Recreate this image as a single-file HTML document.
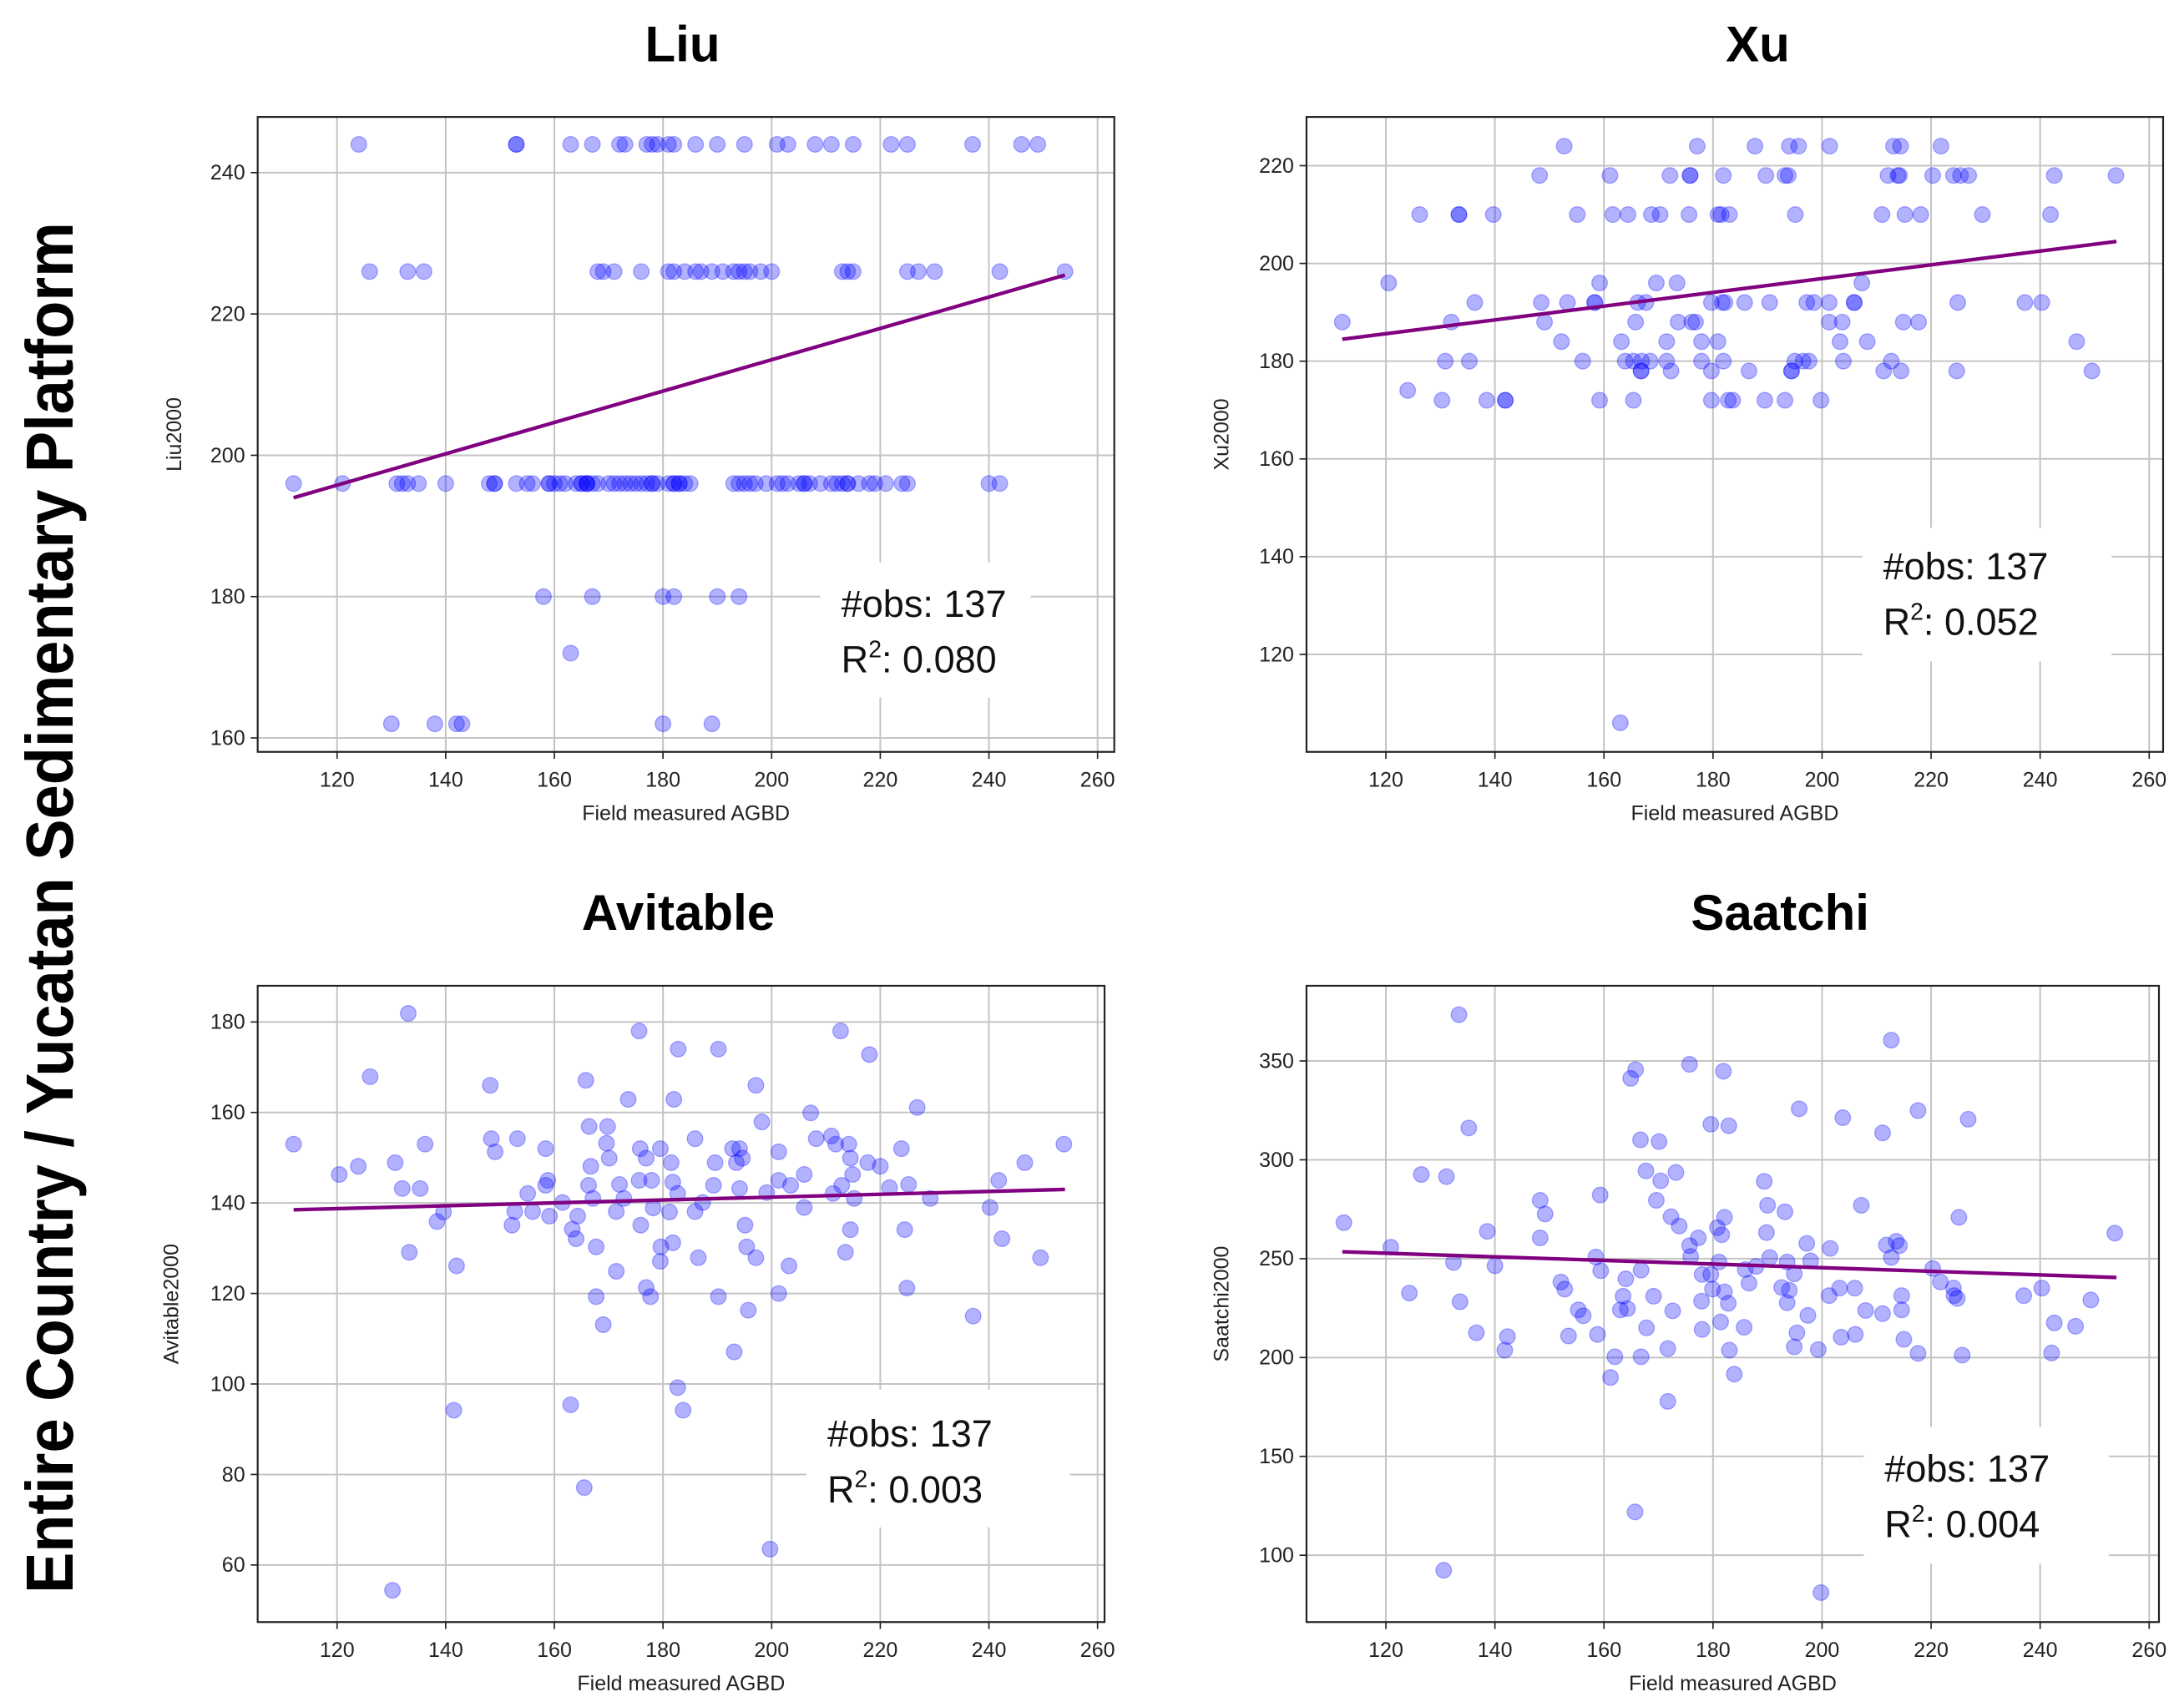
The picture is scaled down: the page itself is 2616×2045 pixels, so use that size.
<!DOCTYPE html>
<html><head><meta charset="utf-8"><style>
html,body{margin:0;padding:0;background:#fff;}
svg{display:block;font-family:"Liberation Sans",sans-serif;}
</style></head><body>
<svg id="fig" width="2616" height="2045" viewBox="0 0 1568 1226" preserveAspectRatio="none" xmlns="http://www.w3.org/2000/svg">
<text transform="translate(52,652) rotate(-90)" text-anchor="middle" font-size="48" font-weight="bold" textLength="985" lengthAdjust="spacingAndGlyphs">Entire Country /  Yucatan Sedimentary Platform</text>
</svg>
<script>
const xTicks=[120,140,160,180,200,220,240,260];
const liuYTicks=[160,180,200,220,240];
const xuYTicks=[120,140,160,180,200,220];
const aviYTicks=[60,80,100,120,140,160,180];
const saaYTicks=[100,150,200,250,300,350];

const liuX=[124,153,153,163,167,172,173,177,178,179,181,182,186,190,195,201,203,208,211,215,222,225,237,246,249,
126,133,136,168,169,171,176,181,182,184,186,187,189,191,193,194,195,196,198,200,213,214,215,225,227,230,242,254,
112,121,131,132,133,135,140,149,149,153,155,156,159,159,161,162,164,165,166,166,167,168,170,171,173,174,176,177,178,179,181,182,182,183,184,193,194,195,197,199,201,203,205,206,207,209,211,212,213,214,216,218,219,221,224,225,240,242,165,183,196,206,160,175,148,214,172,202,185,166,178,
158,167,180,182,190,194,163,130,138,142,143,180,189];
const liuY=[244,244,244,244,244,244,244,244,244,244,244,244,244,244,244,244,244,244,244,244,244,244,244,244,244,
226,226,226,226,226,226,226,226,226,226,226,226,226,226,226,226,226,226,226,226,226,226,226,226,226,226,226,226,
196,196,196,196,196,196,196,196,196,196,196,196,196,196,196,196,196,196,196,196,196,196,196,196,196,196,196,196,196,196,196,196,196,196,196,196,196,196,196,196,196,196,196,196,196,196,196,196,196,196,196,196,196,196,196,196,196,196,196,196,196,196,196,196,196,196,196,196,196,196,196,
180,180,180,180,180,180,172,162,162,162,162,162,162];

const xuX=[152.7,177.1,187.7,194,195.7,201.4,213.1,214.4,221.8,
148.2,161.1,172.1,175.8,175.8,181.9,189.7,193.2,193.8,212.1,213.9,214.2,220.3,224.1,225.4,226.9,242.6,253.9,
126.2,133.4,133.4,139.7,155.1,161.6,164.4,168.7,170.3,175.6,180.9,181.5,183,195.1,211,215.2,218.1,229.4,241.9,
120.5,159.2,169.6,173.4,207.3,
136.3,148.5,153.3,158.3,158.3,166.2,167.7,179.7,181.7,182.2,185.8,190.4,197.2,198.5,201.3,205.9,205.9,224.9,237.2,240.3,
112,132,149.1,165.8,173.6,176.1,176.8,201.3,203.7,214.9,217.7,
152.2,163.2,171.5,177.9,180.9,203.3,208.3,246.7,
130.9,135.3,156.1,163.9,165.4,166.9,168.5,171.5,177.9,181.9,195,196.5,197.6,203.9,212.7,
166.8,166.8,172.3,179.7,186.6,194.4,194.4,211.3,214.5,224.7,249.5,
124,
130.3,138.5,141.9,141.9,159.2,165.4,179.7,182.8,183.6,189.5,193.2,199.8,
163];
const xuY=[224,224,224,224,224,224,224,224,224,
218,218,218,218,218,218,218,218,218,218,218,218,218,218,218,218,218,218,
210,210,210,210,210,210,210,210,210,210,210,210,210,210,210,210,210,210,210,
196,196,196,196,196,
192,192,192,192,192,192,192,192,192,192,192,192,192,192,192,192,192,192,192,192,
188,188,188,188,188,188,188,188,188,188,188,
184,184,184,184,184,184,184,184,
180,180,180,180,180,180,180,180,180,180,180,180,180,180,180,
178,178,178,178,178,178,178,178,178,178,178,
174,
172,172,172,172,172,172,172,172,172,172,172,172,
106];

const aviX=[133.1,175.6,212.7,182.8,190.2,218.0,126.1,148.2,165.8,197.1,173.6,182.0,226.8,207.2,198.2,166.4,169.8,112.0,136.2,148.4,153.2,185.9,208.2,211.0,211.8,214.2,223.9,253.8,158.4,169.6,175.8,179.5,192.8,194.1,149.1,170.1,176.9,194.6,201.3,214.5,123.9,130.7,120.4,166.7,181.5,189.6,193.5,217.7,220.0,246.6,132.0,135.3,158.8,158.4,166.3,172.0,175.6,177.9,181.8,189.3,194.1,201.3,203.5,206.0,212.9,214.9,211.3,221.7,225.2,241.8,155.1,167.1,172.8,182.7,199.1,215.2,229.2,139.6,152.7,156.0,159.1,161.5,164.3,171.4,178.2,181.2,185.9,187.3,206.0,240.2,138.4,152.2,163.3,164.0,175.9,195.1,214.5,224.5,242.4,133.3,167.7,179.6,181.8,186.5,195.4,197.1,213.6,249.5,142.0,171.4,179.5,203.2,176.9,167.7,177.7,190.2,201.3,224.9,195.7,169.0,237.1,193.1,182.7,141.5,163.0,183.7,165.5,199.7,130.2];
const aviY=[181.9,178.0,178.0,174.0,174.0,172.8,167.9,166.0,167.1,166.0,162.9,162.9,161.1,159.9,157.9,156.9,156.9,153.0,153.0,154.2,154.2,154.2,154.2,154.8,153.0,153.0,152.0,153.0,152.0,153.2,152.0,152.0,152.0,152.0,151.3,149.9,149.9,149.9,151.3,149.9,148.1,148.9,146.3,148.1,148.9,148.9,148.9,148.9,148.1,148.9,143.2,143.2,145.0,143.9,143.9,144.1,145.0,145.0,144.6,143.9,143.2,145.0,143.9,146.3,143.9,146.3,142.1,143.4,144.1,145.0,142.1,141.0,141.0,142.1,142.3,141.0,141.0,138.0,138.1,138.1,137.1,140.1,137.1,138.1,138.9,138.0,138.1,140.1,139.0,139.0,135.9,135.1,134.2,132.1,135.1,135.1,134.1,134.1,132.1,129.1,130.3,130.3,131.2,127.9,130.3,127.9,129.1,127.9,126.1,124.9,127.1,126.1,121.3,119.3,119.3,119.3,120.0,121.2,116.3,113.1,115.0,107.1,99.2,94.2,95.4,94.2,77.1,63.5,54.4];

const saaX=[133.4,212.7,164.9,165.8,175.7,181.9,195.8,203.8,217.6,226.8,211.1,135.2,179.6,182.9,166.7,170.1,126.5,131.1,167.7,173.2,170.4,189.4,112.3,148.3,149.2,159.3,169.6,190.0,193.2,207.2,138.6,148.3,172.3,173.8,182.1,180.8,181.6,189.8,225.1,253.7,211.8,213.6,214.2,212.7,120.9,132.4,158.5,159.4,175.7,177.3,175.9,181.1,190.4,197.2,201.5,193.6,197.9,220.3,221.7,224.1,124.3,133.6,140.0,152.1,152.8,155.3,156.2,164.0,163.5,166.8,169.1,178.0,179.6,179.9,182.1,182.8,185.9,186.6,187.9,192.6,194.0,194.9,193.6,197.4,201.3,203.2,206.0,208.0,211.1,214.6,214.6,224.2,224.8,237.0,240.3,242.6,246.5,249.3,136.6,142.3,141.8,153.5,158.8,163.0,164.3,167.8,172.6,177.9,178.0,181.4,185.7,195.4,203.5,206.1,215.0,217.6,225.7,242.1,162.0,166.8,171.7,183.0,194.9,199.3,161.2,183.9,171.7,165.7,130.6,199.8];
const saaY=[373.4,360.5,341.2,345.6,348.3,344.8,325.8,321.3,324.9,320.5,313.6,316.1,318.0,317.2,310.1,309.2,292.6,291.5,294.4,293.6,289.4,289.1,268.2,279.5,272.6,282.2,279.5,277.0,273.7,277.0,263.8,260.5,271.2,266.5,270.9,265.7,262.1,263.2,270.9,262.9,256.9,258.8,256.6,250.6,255.8,248.1,250.8,243.9,256.6,260.5,251.1,248.3,250.6,257.7,255.2,248.3,248.9,245.0,238.2,235.1,232.6,228.2,246.4,238.2,234.6,224.1,221.1,239.8,231.0,244.2,231.0,242.0,242.0,234.6,233.2,227.4,244.5,237.6,246.1,235.4,234.0,242.3,227.7,221.3,231.3,235.1,235.1,223.8,222.2,231.3,224.1,231.3,229.9,231.3,235.1,217.5,215.8,229.1,212.5,210.6,203.7,210.9,211.7,224.1,224.7,215.0,223.6,228.5,214.2,218.0,215.3,212.5,210.3,211.7,209.2,202.1,201.2,202.3,200.4,200.4,204.5,203.7,205.4,204.0,189.9,191.6,177.8,121.9,92.4,81.1];

const fitX=[112,254];
const liuFit=[194,225.5];
const xuFit=[184.5,204.5];
const aviFit=[138.5,143];
const saaFit=[253.5,240.5];

const NS='http://www.w3.org/2000/svg';
const svg=document.getElementById('fig');
function mk(tag,attrs,parent){const e=document.createElementNS(NS,tag);for(const k in attrs)e.setAttribute(k,attrs[k]);(parent||svg).appendChild(e);return e;}
function lin(d0,d1,r0,r1){return v=>r0+(v-d0)*(r1-r0)/(d1-d0);}

function panel(p){
  const g=mk('g',{});
  
  
  const xs=lin(120,260,p.x120,p.x260), ys=lin(p.yd[0],p.yd[1],p.yr[0],p.yr[1]);
  const b=p.box;
  xTicks.forEach(t=>{const X=xs(t);if(X>b[0]&&X<b[2]){const l=mk('line',{x1:X,x2:X,y1:b[1],y2:b[3],stroke:'#c4c4c4','stroke-width':1.2},g);
    
    }});
  p.yt.forEach(t=>{const Y=ys(t);const l=mk('line',{x1:b[0],x2:b[2],y1:Y,y2:Y,stroke:'#c4c4c4','stroke-width':1.2},g);
    
    });
  const ab=mk('rect',{x:p.ann[0],y:p.ann[1],width:p.ann[2]-p.ann[0],height:p.ann[3]-p.ann[1],fill:'#fff'},g);
  
  
  p.px.forEach((v,i)=>{const c=mk('circle',{cx:xs(v),cy:ys(p.py[i]),r:5.6,fill:'#0000ff','fill-opacity':0.3,stroke:'#0000ff','stroke-opacity':0.3,'stroke-width':0.8},g);
    
    });
  const fl=mk('line',{x1:xs(fitX[0]),y1:ys(p.fit[0]),x2:xs(fitX[1]),y2:ys(p.fit[1]),stroke:'#800080','stroke-width':2.6},g);
  
  
  const fr=mk('rect',{x:b[0],y:b[1],width:b[2]-b[0],height:b[3]-b[1],fill:'none',stroke:'#222','stroke-width':1.3},g);
  
  
  xTicks.forEach(t=>{const X=xs(t);mk('line',{x1:X,x2:X,y1:b[3],y2:b[3]+5,stroke:'#222','stroke-width':1},g);
    const tx=mk('text',{x:X,y:b[3]+25,'text-anchor':'middle','font-size':15,fill:'#222'},g);tx.textContent=t;
    
    });
  p.yt.forEach(t=>{const Y=ys(t);mk('line',{x1:b[0]-5,x2:b[0],y1:Y,y2:Y,stroke:'#222','stroke-width':1},g);
    const tx=mk('text',{x:b[0]-9,y:Y+5,'text-anchor':'end','font-size':15,fill:'#222'},g);tx.textContent=t;
    
    });
  const xl=mk('text',{x:(b[0]+b[2])/2,y:b[3]+49,'text-anchor':'middle','font-size':15,fill:'#222'},g);xl.textContent='Field measured AGBD';
  
  
  const yl=mk('text',{transform:`translate(${p.ylx},${(b[1]+b[3])/2}) rotate(-90)`,'text-anchor':'middle','font-size':15,fill:'#222'},g);yl.textContent=p.ylabel;
  
  
  const ti=mk('text',{x:p.tx,y:b[1]-40,'text-anchor':'middle','font-size':36,'font-weight':'bold'},g);ti.textContent=p.title;
  
  
  const s1=mk('text',{x:p.ann[0]+15,y:p.tb,'font-size':27,fill:'#111'},g);s1.textContent='#obs: 137';
  
  
  const s2=mk('text',{x:p.ann[0]+15,y:p.tb+40,'font-size':27,fill:'#111'},g);
  
  
  s2.innerHTML='R<tspan dy="-11" font-size="17">2</tspan><tspan dy="11">: '+p.r2+'</tspan>';
}
panel({key:'liu',title:'Liu',tx:490,box:[185,84,800,540],x120:242,x260:788,yd:[160,240],yr:[530,124],yt:liuYTicks,px:liuX,py:liuY,fit:liuFit,ylabel:'Liu2000',ylx:130,ann:[589,404,740,501],tb:443,r2:'0.080'});
panel({key:'xu',title:'Xu',tx:1262,box:[938,84,1553,540],x120:995,x260:1543,yd:[120,220],yr:[470,119],yt:xuYTicks,px:xuX,py:xuY,fit:xuFit,ylabel:'Xu2000',ylx:882,ann:[1337,379,1516,475],tb:416,r2:'0.052'});
panel({key:'avitable',title:'Avitable',tx:487,box:[185,708,793,1165],x120:242,x260:788,yd:[60,180],yr:[1124,734],yt:aviYTicks,px:aviX,py:aviY,fit:aviFit,ylabel:'Avitable2000',ylx:128,ann:[579,998,768,1097],tb:1039,r2:'0.003'});
panel({key:'saatchi',title:'Saatchi',tx:1278,box:[938,708,1550,1165],x120:995,x260:1543,yd:[100,350],yr:[1117,762],yt:saaYTicks,px:saaX,py:saaY,fit:saaFit,ylabel:'Saatchi2000',ylx:882,ann:[1338,1025,1514,1123],tb:1064,r2:'0.004'});
</script>
</body></html>
